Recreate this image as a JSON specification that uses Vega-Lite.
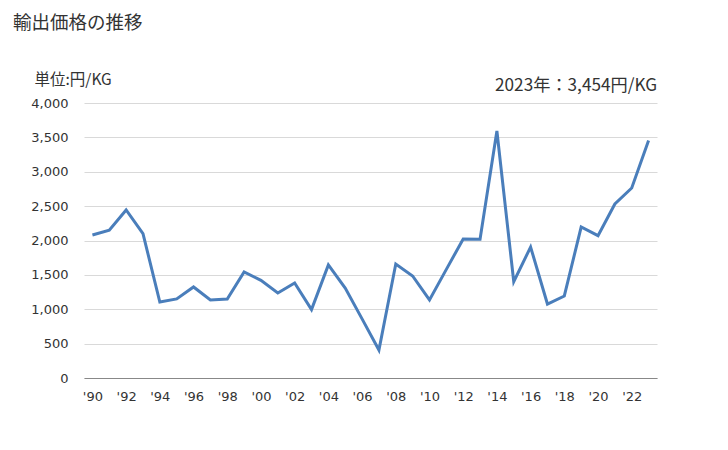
{
  "$schema": "https://vega.github.io/schema/vega-lite/v6.json",
  "width": 573,
  "height": 275,
  "autosize": {"type": "none"},
  "padding": {"left": 84, "top": 103, "right": 71, "bottom": 72},
  "background": "white",
  "config": {
    "font": "Noto Sans CJK JP",
    "view": {"stroke": null}
  },
  "title": {
    "text": "輸出価格の推移",
    "anchor": "start",
    "frame": "group",
    "orient": "top",
    "dx": -71,
    "offset": 40,
    "fontSize": 18.5,
    "fontWeight": "normal",
    "color": "#333333"
  },
  "data": {
    "values": [
      {"year": 1990, "price": 2080},
      {"year": 1991, "price": 2150},
      {"year": 1992, "price": 2444},
      {"year": 1993, "price": 2100},
      {"year": 1994, "price": 1105},
      {"year": 1995, "price": 1150},
      {"year": 1996, "price": 1324},
      {"year": 1997, "price": 1135},
      {"year": 1998, "price": 1150},
      {"year": 1999, "price": 1542},
      {"year": 2000, "price": 1420},
      {"year": 2001, "price": 1236},
      {"year": 2002, "price": 1382},
      {"year": 2003, "price": 995},
      {"year": 2004, "price": 1644},
      {"year": 2005, "price": 1309},
      {"year": 2006, "price": 860},
      {"year": 2007, "price": 407},
      {"year": 2008, "price": 1658},
      {"year": 2009, "price": 1484},
      {"year": 2010, "price": 1135},
      {"year": 2011, "price": 1580},
      {"year": 2012, "price": 2022},
      {"year": 2013, "price": 2020},
      {"year": 2014, "price": 3593},
      {"year": 2015, "price": 1400},
      {"year": 2016, "price": 1905},
      {"year": 2017, "price": 1076},
      {"year": 2018, "price": 1193},
      {"year": 2019, "price": 2196},
      {"year": 2020, "price": 2070},
      {"year": 2021, "price": 2531},
      {"year": 2022, "price": 2764},
      {"year": 2023, "price": 3454}
    ]
  },
  "layer": [
    {
      "mark": {"type": "line", "color": "#4a7ebb", "strokeWidth": 3, "strokeJoin": "miter"},
      "encoding": {
        "x": {
          "field": "year",
          "type": "ordinal",
          "scale": {"type": "point", "padding": 0.5},
          "axis": {
            "title": null,
            "labelAngle": 0,
            "labelExpr": "datum.value % 2 == 0 ? \"'\" + substring(toString(datum.value), 2) : ''",
            "ticks": false,
            "labelPadding": 12,
            "labelFontSize": 13,
            "labelColor": "#333333",
            "labelFont": "DejaVu Sans",
            "domainColor": "#888888",
            "domainWidth": 1,
            "grid": false
          }
        },
        "y": {
          "field": "price",
          "type": "quantitative",
          "scale": {"domain": [0, 4000]},
          "axis": {
            "values": [0, 500, 1000, 1500, 2000, 2500, 3000, 3500, 4000],
            "format": ",d",
            "title": "単位:円/KG",
            "titleAngle": 0,
            "titleAlign": "left",
            "titleBaseline": "bottom",
            "titleX": -50,
            "titleY": -16,
            "titleFontSize": 15.5,
            "titleFontWeight": "normal",
            "titleColor": "#333333",
            "domain": false,
            "ticks": false,
            "labelPadding": 16,
            "labelFontSize": 13,
            "labelColor": "#333333",
            "labelFont": "DejaVu Sans",
            "gridColor": "#d9d9d9",
            "gridWidth": 1
          }
        }
      }
    },
    {
      "data": {"values": [{"label": "2023年：3,454円/KG"}]},
      "mark": {"type": "text", "align": "right", "baseline": "bottom", "fontSize": 17.2, "color": "#333333"},
      "encoding": {
        "text": {"field": "label"},
        "x": {"value": "width"},
        "y": {"value": -8}
      }
    }
  ]
}
